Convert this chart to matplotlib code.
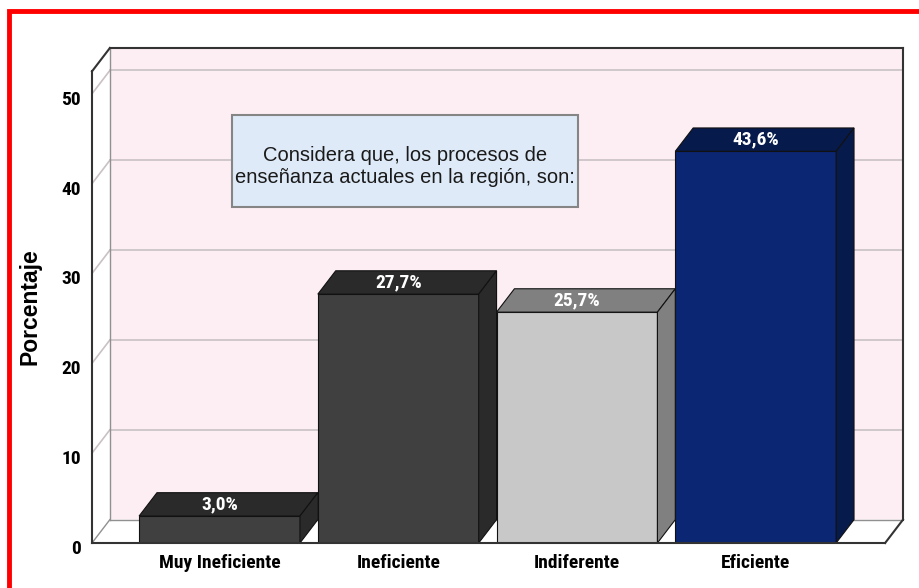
import matplotlib
matplotlib.use('Agg')
import matplotlib.pyplot as plt
from matplotlib.patches import Polygon, Rectangle
from matplotlib.transforms import ScaledTranslation

# Datos del grafico
categorias = ['Muy Ineficiente', 'Ineficiente', 'Indiferente', 'Eficiente']
porcentajes = [3.0, 27.7, 25.7, 43.6]
etiquetas = ['3,0%', '27,7%', '25,7%', '43,6%']
yticks = [0, 10, 20, 30, 40, 50]

# Colores (frente, cara superior/lateral)
col_frente = ['#404040', '#404040', '#c8c8c8', '#0b2673']
col_sombra = ['#2a2a2a', '#2a2a2a', '#808080', '#071a4c']

narrow = ['Roboto Condensed', 'DejaVu Sans']
arial = ['Liberation Sans', 'DejaVu Sans']

dx = 0.1      # profundidad 3D en unidades de x
dy = 2.6      # profundidad 3D en unidades de y
ancho = 0.9
x0, x1 = -0.7135, 3.824
y1 = 55.1

fig = plt.figure(figsize=(9.2, 5.88), dpi=100)
ax = fig.add_axes([92/920, 45/588, 811/920, 495/588])
ax.set_xlim(x0, x1)
ax.set_ylim(0, y1)
for s in ax.spines.values():
    s.set_visible(False)
ax.patch.set_alpha(0)

# Paredes: fondo rosa, pared izquierda y suelo blancos
ax.add_patch(Rectangle((x0 + dx, dy), x1 - x0 - dx, y1 - dy, facecolor='#fdeef4',
                       edgecolor='none', zorder=0))
ax.add_patch(Polygon([(x0, 0), (x0 + dx, dy), (x0 + dx, y1), (x0, y1 - dy)],
                     facecolor='white', edgecolor='none', zorder=0))
ax.add_patch(Polygon([(x0, 0), (x1 - dx, 0), (x1, dy), (x0 + dx, dy)],
                     facecolor='white', edgecolor='none', zorder=0))

# Lineas de rejilla en la pared del fondo y diagonales en la pared izquierda
for v in yticks[1:]:
    ax.plot([x0 + dx, x1], [v + dy, v + dy], color='#c9c1c5', lw=1.2, zorder=1)
    ax.plot([x0, x0 + dx], [v, v + dy], color='#c9c1c5', lw=1.2, zorder=1)

# Marco
gris = '#909090'
ax.plot([x0 + dx, x0 + dx], [dy, y1], color=gris, lw=1, zorder=1)
ax.plot([x0 + dx, x1], [dy, dy], color=gris, lw=1, zorder=1)
ax.plot([x0, x0 + dx], [0, dy], color=gris, lw=1, zorder=1)
ax.plot([x0 + dx, x1], [y1, y1], color='#333333', lw=1.5, zorder=5, clip_on=False)
ax.plot([x1, x1], [dy, y1], color='#333333', lw=1.5, zorder=5, clip_on=False)
ax.plot([x0, x0], [0, y1 - dy], color='#333333', lw=1.5, zorder=5, clip_on=False)
ax.plot([x0, x0 + dx], [y1 - dy, y1], color='#333333', lw=1.5, zorder=5, clip_on=False)
ax.plot([x0, x1 - dx], [0, 0], color='#333333', lw=1.5, zorder=5, clip_on=False)
ax.plot([x1 - dx, x1], [0, dy], color='#333333', lw=1.5, zorder=5, clip_on=False)

# Barras 3D
xs = list(range(len(categorias)))
ax.bar(xs, porcentajes, width=ancho, color=col_frente, edgecolor='#111111',
       linewidth=0.8, zorder=3)
for x, v, cs, lab in zip(xs, porcentajes, col_sombra, etiquetas):
    l, r = x - ancho / 2, x + ancho / 2
    ax.add_patch(Polygon([(l, v), (r, v), (r + dx, v + dy), (l + dx, v + dy)],
                         facecolor=cs, edgecolor='#111111', lw=0.8, zorder=3))
    ax.add_patch(Polygon([(r, 0), (r + dx, dy), (r + dx, v + dy), (r, v)],
                         facecolor=cs, edgecolor='#111111', lw=0.8, zorder=3))
    ax.text(x, v + dy / 2, lab, ha='center', va='center', color='white',
            fontsize=14, fontweight='bold', family=narrow, zorder=4)

# Cuadro de texto
ax.add_patch(Rectangle((0.07, 37.4), 1.936, 10.26, facecolor='#deeaf8',
                       edgecolor='#858585', lw=1.5, zorder=2))
ax.text(1.038, 41.9, 'Considera que, los procesos de\nenseñanza actuales en la región, son:',
        ha='center', va='center', fontsize=14.5, color='#1a1a1a',
        family=arial, linespacing=1.15, zorder=3)

# Ejes
ax.set_xticks(xs)
ax.set_xticklabels(categorias, fontsize=14, fontweight='bold', family=narrow)
ax.set_yticks(yticks)
ax.set_yticklabels([str(t) for t in yticks], fontsize=14, fontweight='bold', family=narrow)
ax.tick_params(length=0)
ax.tick_params(axis='x', pad=8)
ax.tick_params(axis='y', pad=8)
desplaza = ScaledTranslation(0, -4/100, fig.dpi_scale_trans)
for t in ax.get_yticklabels():
    t.set_transform(t.get_transform() + desplaza)
ax.set_ylabel('Porcentaje', fontsize=16.5, fontweight='bold', family=arial)
ax.yaxis.set_label_coords(-0.0617, 0.477)

# Borde rojo
fig.patches.append(Rectangle((9/920, -0.05), 1.05, 1.05 - 11/588,
                             transform=fig.transFigure, fill=False,
                             edgecolor='#ff0000', lw=3.5))

fig.savefig('out.png', dpi=100)
